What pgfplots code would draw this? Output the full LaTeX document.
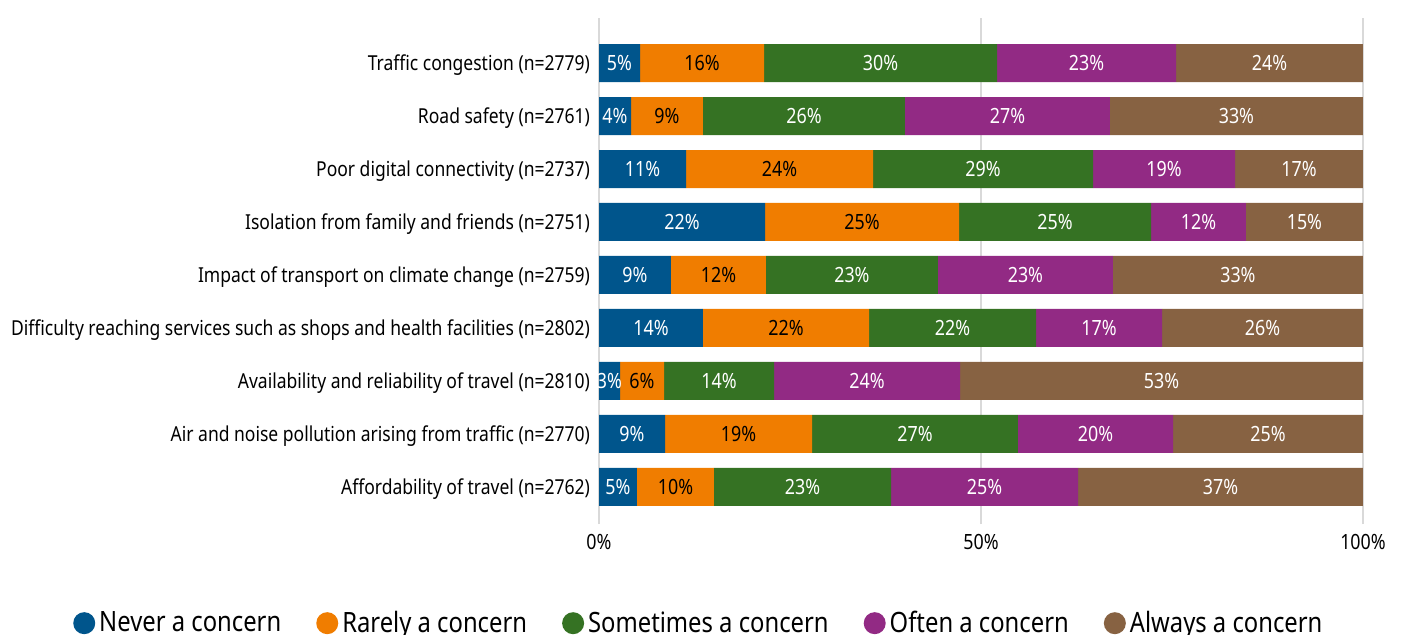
\documentclass[border=0pt]{standalone}
\usepackage{fontspec}
\setmainfont[FakeStretch=0.85]{Noto Sans}
\usepackage{pgfplots}
\usepackage{pgfplotstable}
\pgfplotsset{compat=1.18}

\definecolor{cblue}{RGB}{0,85,140}
\definecolor{corange}{RGB}{240,125,0}
\definecolor{cgreen}{RGB}{53,114,35}
\definecolor{cpurple}{RGB}{146,42,132}
\definecolor{cbrown}{RGB}{135,98,66}
\definecolor{gridgray}{RGB}{217,217,217}

% y: 8 = Traffic congestion (top) ... 0 = Affordability of travel (bottom)
\pgfplotstableread{
y v lab
8 5.37 5
7 4.19 4
6 11.39 11
5 21.73 22
4 9.42 9
3 13.61 14
2 2.75 3
1 8.64 9
0 4.97 5
}\tblue
\pgfplotstableread{
y v lab
8 16.23 16
7 9.42 9
6 24.48 24
5 25.39 25
4 12.43 12
3 21.73 22
2 5.76 6
1 19.24 19
0 10.08 10
}\torange
\pgfplotstableread{
y v lab
8 30.50 30
7 26.44 26
6 28.80 29
5 25.13 25
4 22.51 23
3 21.86 22
2 14.40 14
1 26.96 27
0 23.17 23
}\tgreen
\pgfplotstableread{
y v lab
8 23.43 23
7 26.83 27
6 18.59 19
5 12.43 12
4 22.91 23
3 16.49 17
2 24.35 24
1 20.29 20
0 24.48 25
}\tpurple
\pgfplotstableread{
y v lab
8 24.46 24
7 33.11 33
6 16.73 17
5 15.31 15
4 32.72 33
3 26.30 26
2 52.73 53
1 24.86 25
0 37.29 37
}\tbrown

\pgfplotsset{
  seg/.style 2 args={
    fill=#1, draw=none,
    nodes near coords={\pgfplotspointmeta\%},
    point meta=explicit symbolic,
    every node near coord/.style={
      anchor=center, inner sep=0pt,
      font=\fontsize{10.5}{12}\selectfont, text=#2},
    legend image code/.code={\fill[##1] (0.3em,0) circle (5.5pt);},
  },
}

\begin{document}
\begin{tikzpicture}
\path[use as bounding box] (0,0) rectangle (700.5pt,-317.5pt);
\begin{axis}[
  at={(299.5pt,-9pt)}, anchor=north west,
  scale only axis,
  width=382pt, height=253pt,
  xbar stacked,
  bar width=19pt,
  xmin=0, xmax=100,
  ymin=-0.7, ymax=8.85,
  axis line style={draw=none},
  major tick length=0pt,
  xmajorgrids,
  grid style={gridgray, line width=0.6pt},
  xtick={0,50,100},
  xticklabels={0\%,50\%,100\%},
  xticklabel style={anchor=base, yshift=-12.5pt, font=\fontsize{10.5}{12}\selectfont},
  ytick={0,...,8},
  yticklabels={
    Affordability of travel (n=2762),
    Air and noise pollution arising from traffic (n=2770),
    Availability and reliability of travel (n=2810),
    Difficulty reaching services such as shops and health facilities (n=2802),
    Impact of transport on climate change (n=2759),
    Isolation from family and friends (n=2751),
    Poor digital connectivity (n=2737),
    Road safety (n=2761),
    Traffic congestion (n=2779)
  },
  yticklabel style={font=\fontsize{10.3}{12}\selectfont, xshift=-1pt, yshift=-1pt},
  legend columns=5,
  legend style={
    at={(0.132,-0.196)}, anchor=center, draw=none,
    font=\fontsize{14}{16}\selectfont,
    /tikz/every even column/.append style={column sep=15.5pt},
  },
]
\addplot[seg={cblue}{white}] table[x=v, y=y, meta=lab] {\tblue};
\addplot[seg={corange}{black}] table[x=v, y=y, meta=lab] {\torange};
\addplot[seg={cgreen}{white}] table[x=v, y=y, meta=lab] {\tgreen};
\addplot[seg={cpurple}{white}] table[x=v, y=y, meta=lab] {\tpurple};
\addplot[seg={cbrown}{white}] table[x=v, y=y, meta=lab] {\tbrown};
\legend{Never a concern, Rarely a concern, Sometimes a concern, Often a concern, Always a concern}
\end{axis}
\end{tikzpicture}
\end{document}
